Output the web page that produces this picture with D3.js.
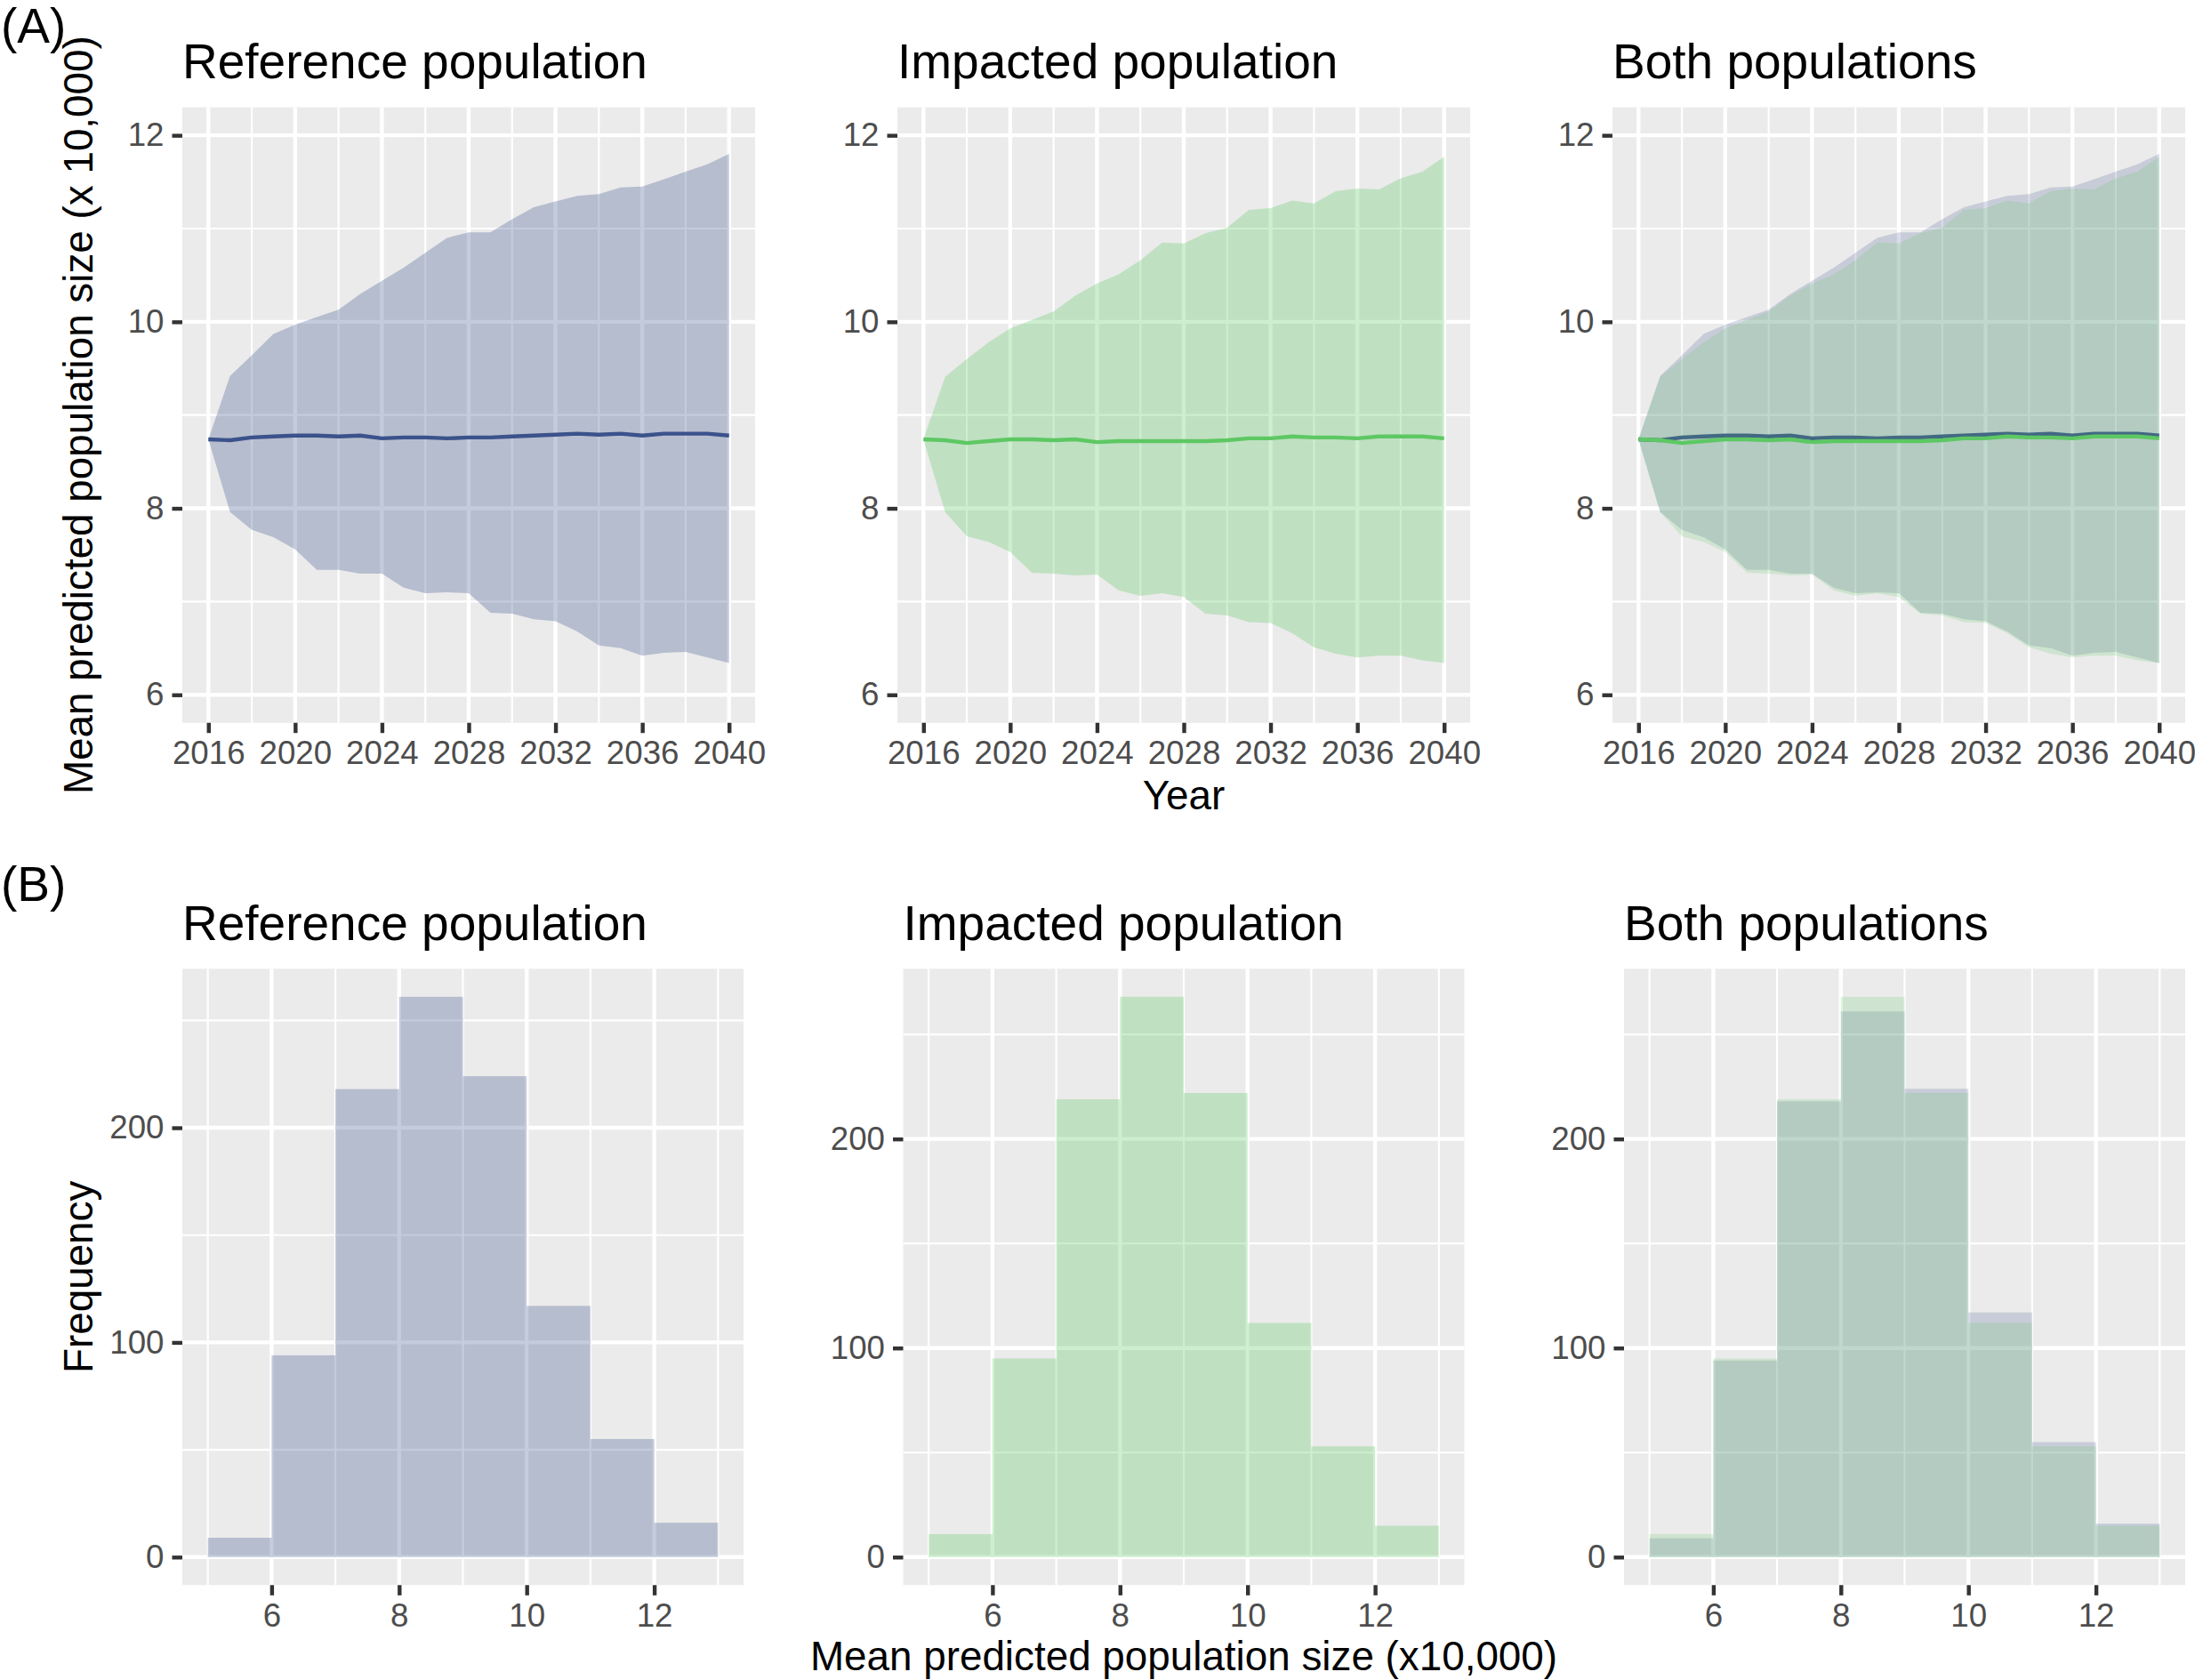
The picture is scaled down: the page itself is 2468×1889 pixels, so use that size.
<!DOCTYPE html>
<html>
<head>
<meta charset="utf-8">
<script src="https://cdn.jsdelivr.net/npm/d3@7"></script>
<style>
html,body{margin:0;padding:0;background:#fff;}
svg{display:block;}
text{font-family:"Liberation Sans",Arial,Helvetica,sans-serif;}
</style>
</head>
<body>
<svg id="chart" width="2468" height="1889"></svg>
<script>
// ---------------- DATA ----------------
const years = [2016,2017,2018,2019,2020,2021,2022,2023,2024,2025,2026,2027,2028,2029,2030,2031,2032,2033,2034,2035,2036,2037,2038,2039,2040];
const refUpper = [8.74,9.42,9.64,9.87,9.97,10.05,10.13,10.30,10.44,10.58,10.74,10.90,10.96,10.96,11.10,11.23,11.29,11.35,11.37,11.44,11.45,11.53,11.61,11.69,11.80];
const refLower = [8.74,7.96,7.77,7.69,7.56,7.34,7.34,7.30,7.30,7.15,7.09,7.10,7.09,6.88,6.87,6.81,6.79,6.68,6.53,6.50,6.42,6.45,6.46,6.40,6.34];
const refMean  = [8.74,8.73,8.76,8.77,8.78,8.78,8.77,8.78,8.75,8.76,8.76,8.75,8.76,8.76,8.77,8.78,8.79,8.80,8.79,8.80,8.78,8.80,8.80,8.80,8.78];
const impUpper = [8.74,9.41,9.60,9.78,9.93,10.02,10.11,10.28,10.41,10.51,10.66,10.85,10.84,10.95,11.01,11.20,11.22,11.30,11.27,11.40,11.43,11.42,11.54,11.61,11.77];
const impLower = [8.74,7.96,7.70,7.64,7.53,7.31,7.30,7.28,7.29,7.12,7.06,7.09,7.05,6.87,6.85,6.78,6.77,6.66,6.51,6.44,6.40,6.42,6.42,6.37,6.34];
const impMean  = [8.74,8.73,8.70,8.72,8.74,8.74,8.73,8.74,8.71,8.72,8.72,8.72,8.72,8.72,8.73,8.75,8.75,8.77,8.76,8.76,8.75,8.77,8.77,8.77,8.75];

const yearTicks = [2016,2020,2024,2028,2032,2036,2040];
const yearMinor = [2018,2022,2026,2030,2034,2038];
const sizeLimits = [6,12];
const sizeTicks = [6,8,10,12];
const sizeMinor = [7,9,11];

const binStart = [5,6,7,8,9,10,11,12];
const binEnd   = [6,7,8,9,10,11,12,13];
const refCounts = [9,94,218,261,224,117,55,16];
const impCounts = [11,95,219,268,222,112,53,15];

const histXTicks = [6,8,10,12];
const histXMinor = [5,7,9,11,13];
const histYTicks = [0,100,200];
const histYMinor = [50,150,250];

const titles = ["Reference population","Impacted population","Both populations"];
const refColor = "#3B528B";
const impColor = "#5DC863";

// ---------------- LAYOUT ----------------
const topLefts = [205,1009,1813], topTop = 120.7, topW = 644, topH = 692;
const botLefts = [205,1015.5,1826], botTop = 1089.3, botW = 631, botH = 693;
const FONT = '"Liberation Sans",Arial,Helvetica,sans-serif';
const tickCol = "#333333", tickLabCol = "#4D4D4D";
const majorW = 4.4, minorW = 2.2;
const fsTitle = 55, fsAxis = 45.8, fsTick = 36.7;

const svg = d3.select("#chart");
svg.append("rect").attr("width",2468).attr("height",1889).attr("fill","#fff");

function expand(lo, hi){ const r = hi - lo; return [lo - 0.05*r, hi + 0.05*r]; }

function panel(left, top, w, h, xDom, yDom, xMaj, xMin, yMaj, yMin){
  const g = svg.append("g").attr("transform",`translate(${left},${top})`);
  const x = d3.scaleLinear().domain(xDom).range([0,w]);
  const y = d3.scaleLinear().domain(yDom).range([h,0]);
  g.append("rect").attr("width",w).attr("height",h).attr("fill","#EBEBEB");
  const grid = g.append("g");
  grid.selectAll("line.ymin").data(yMin).join("line").attr("x1",0).attr("x2",w)
    .attr("y1",d=>y(d)).attr("y2",d=>y(d)).attr("stroke","#fff").attr("stroke-width",minorW);
  grid.selectAll("line.xmin").data(xMin).join("line").attr("y1",0).attr("y2",h)
    .attr("x1",d=>x(d)).attr("x2",d=>x(d)).attr("stroke","#fff").attr("stroke-width",minorW);
  grid.selectAll("line.ymaj").data(yMaj).join("line").attr("x1",0).attr("x2",w)
    .attr("y1",d=>y(d)).attr("y2",d=>y(d)).attr("stroke","#fff").attr("stroke-width",majorW);
  grid.selectAll("line.xmaj").data(xMaj).join("line").attr("y1",0).attr("y2",h)
    .attr("x1",d=>x(d)).attr("x2",d=>x(d)).attr("stroke","#fff").attr("stroke-width",majorW);
  const marks = g.append("g");
  const ax = g.append("g").attr("transform",`translate(0,${h})`)
    .call(d3.axisBottom(x).tickValues(xMaj).tickFormat(d3.format("d")).tickSizeInner(11.5).tickSizeOuter(0).tickPadding(9));
  const ay = g.append("g")
    .call(d3.axisLeft(y).tickValues(yMaj).tickFormat(d3.format("d")).tickSizeInner(11.5).tickSizeOuter(0).tickPadding(9));
  [ax,ay].forEach(a=>{
    a.attr("font-family",FONT).attr("font-size",fsTick);
    a.select(".domain").remove();
    a.selectAll(".tick line").attr("stroke",tickCol).attr("stroke-width",majorW);
    a.selectAll(".tick text").attr("fill",tickLabCol);
  });
  return {g:marks, x, y};
}

function ribbon(p, lower, upper, color, alpha){
  const area = d3.area().x((d,i)=>p.x(years[i])).y0((d,i)=>p.y(lower[i])).y1((d,i)=>p.y(upper[i]));
  p.g.append("path").datum(years).attr("d",area).attr("fill",color).attr("fill-opacity",alpha);
}
function meanLine(p, vals, color){
  const line = d3.line().x((d,i)=>p.x(years[i])).y((d,i)=>p.y(vals[i]));
  p.g.append("path").datum(years).attr("d",line).attr("fill","none")
    .attr("stroke",color).attr("stroke-width",4.4).attr("stroke-linejoin","round");
}
function hist(p, counts, color, alpha){
  p.g.append("g").selectAll("rect").data(counts).join("rect")
    .attr("x",(d,i)=>p.x(binStart[i])).attr("width",(d,i)=>p.x(binEnd[i])-p.x(binStart[i]))
    .attr("y",d=>p.y(d)).attr("height",d=>p.y(0)-p.y(d))
    .attr("fill",color).attr("fill-opacity",alpha);
}

// ---------------- TOP ROW ----------------
const yrDom = expand(2016,2040);
const szDom = expand(sizeLimits[0],sizeLimits[1]);
const pA = topLefts.map(l=>panel(l,topTop,topW,topH,yrDom,szDom,yearTicks,yearMinor,sizeTicks,sizeMinor));
ribbon(pA[0],refLower,refUpper,refColor,0.3); meanLine(pA[0],refMean,refColor);
ribbon(pA[1],impLower,impUpper,impColor,0.3); meanLine(pA[1],impMean,impColor);
ribbon(pA[2],refLower,refUpper,refColor,0.2); meanLine(pA[2],refMean,refColor);
ribbon(pA[2],impLower,impUpper,impColor,0.2); meanLine(pA[2],impMean,impColor);

// ---------------- BOTTOM ROW ----------------
const hxDom = expand(binStart[0],binEnd[binEnd.length-1]);
const pB = [
  panel(botLefts[0],botTop,botW,botH,hxDom,expand(0,d3.max(refCounts)),histXTicks,histXMinor,histYTicks,histYMinor),
  panel(botLefts[1],botTop,botW,botH,hxDom,expand(0,d3.max(impCounts)),histXTicks,histXMinor,histYTicks,histYMinor),
  panel(botLefts[2],botTop,botW,botH,hxDom,expand(0,d3.max(refCounts.concat(impCounts))),histXTicks,histXMinor,histYTicks,histYMinor)
];
hist(pB[0],refCounts,refColor,0.3);
hist(pB[1],impCounts,impColor,0.3);
hist(pB[2],refCounts,refColor,0.2);
hist(pB[2],impCounts,impColor,0.2);

// ---------------- TEXT ----------------
function txt(x,y,s,size,opts={}){
  const t = svg.append("text").attr("x",x).attr("y",y).text(s)
    .attr("font-size",size).attr("fill",opts.fill||"#000")
    .attr("text-anchor",opts.anchor||"start");
  if(opts.rotate) t.attr("transform",`rotate(-90,${x},${y})`);
  return t;
}
topLefts.forEach((l,i)=>txt(l,88,titles[i],fsTitle));
botLefts.forEach((l,i)=>txt(l,1057,titles[i],fsTitle));
txt(1,48,"(A)",fsTitle);
txt(1,1013,"(B)",fsTitle);
txt(topLefts[1]+topW/2,910,"Year",fsAxis,{anchor:"middle"});
txt(botLefts[1]+botW/2,1878,"Mean predicted population size (x10,000)",fsAxis,{anchor:"middle"});
txt(104,topTop+topH/2,"Mean predicted population size (x 10,000)",fsAxis,{anchor:"middle",rotate:true});
txt(104,botTop+botH/2,"Frequency",fsAxis,{anchor:"middle",rotate:true});
</script>
</body>
</html>
